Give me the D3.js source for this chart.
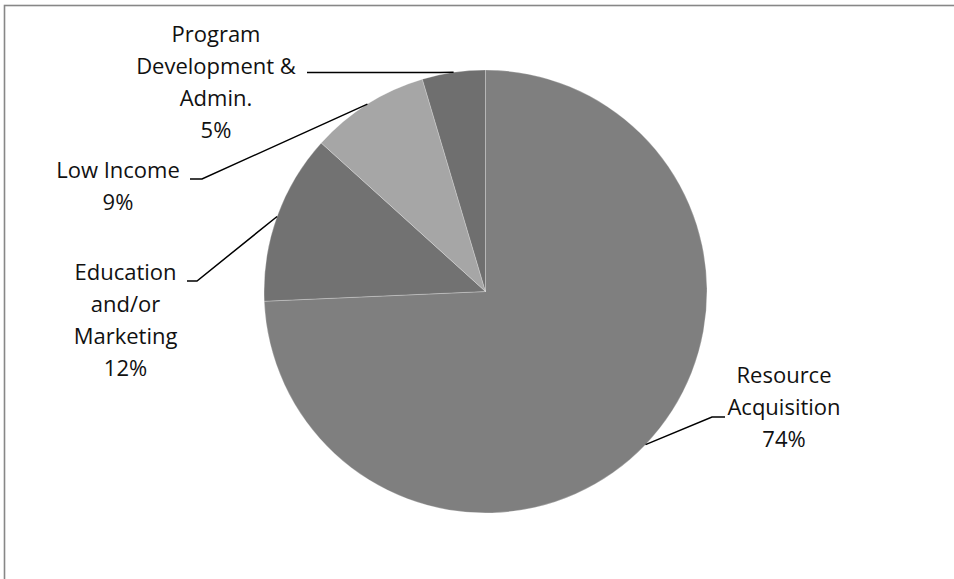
<!DOCTYPE html>
<html>
<head>
<meta charset="utf-8">
<script src="https://cdn.jsdelivr.net/npm/d3@7"></script>
<style>
  html, body { margin: 0; padding: 0; background: #fff; }
  svg { display: block; }
  .lbl { font-family: "Open Sans", sans-serif; font-size: 22px; fill: #111; }
</style>
</head>
<body>
<svg id="chart"></svg>
<script>
// share of spending by category, clockwise from 12 o'clock
const categories = ["Resource Acquisition", "Education and/or Marketing", "Low Income", "Program Development & Admin."];
const values = [74.3, 12.4, 8.7, 4.6];
const labelLines = [
  ["Resource", "Acquisition"],
  ["Education", "and/or", "Marketing"],
  ["Low Income"],
  ["Program", "Development &", "Admin."]
];
const sliceColors = ["#7f7f7f", "#727272", "#a6a6a6", "#6f6f6f"];

const width = 954, height = 579;
const cx = 485.5, cy = 291.5, radius = 221.5;

// where each data label sits (text centre x, first baseline, elbow of leader, end of leader)
const labelLayout = [
  { tx: 784, ty: 383, ex: 712, ey: 417, hx: 725 },
  { tx: 125.5, ty: 280, ex: 197, ey: 281, hx: 187 },
  { tx: 118, ty: 178, ex: 202, ey: 179, hx: 190 },
  { tx: 216, ty: 41.5, ex: 440, ey: 72.5, hx: 307 }
];
const lineGap = 32;

const svg = d3.select("#chart").attr("width", width).attr("height", height);

// chart frame (runs off the right and bottom of the window)
svg.append("rect")
  .attr("x", 4.5).attr("y", 5.5)
  .attr("width", width + 20).attr("height", height + 20)
  .attr("fill", "none")
  .attr("stroke", "#878787")
  .attr("stroke-width", 1.6);

const data = categories.map((c, i) => ({ name: c, value: values[i], idx: i }));
const total = d3.sum(values);

const pie = d3.pie().sort(null).value(d => d.value);
const arcs = pie(data);
const arc = d3.arc().innerRadius(0).outerRadius(radius);

const g = svg.append("g").attr("transform", `translate(${cx},${cy})`);

g.selectAll("path.slice")
  .data(arcs)
  .enter()
  .append("path")
  .attr("class", "slice")
  .attr("d", arc)
  .attr("fill", d => sliceColors[d.data.idx])
  .attr("stroke", "rgba(255,255,255,0.25)")
  .attr("stroke-width", 1);

// leader lines
const pct = d3.format(".0f");
arcs.forEach(a => {
  const L = labelLayout[a.data.idx];
  const mid = (a.startAngle + a.endAngle) / 2;
  const px = cx + radius * Math.sin(mid);
  const py = cy - radius * Math.cos(mid);
  svg.append("path")
    .attr("d", d3.line()([[px, py], [L.ex, L.ey], [L.hx, L.ey]]))
    .attr("fill", "none")
    .attr("stroke", "#000")
    .attr("stroke-width", 1.5);

  const lines = labelLines[a.data.idx].concat([pct(a.data.value / total * 100) + "%"]);
  const t = svg.append("text")
    .attr("class", "lbl")
    .attr("text-anchor", "middle");
  lines.forEach((s, k) => {
    t.append("tspan")
      .attr("x", L.tx)
      .attr("y", L.ty + k * lineGap)
      .text(s);
  });
});
</script>
</body>
</html>
